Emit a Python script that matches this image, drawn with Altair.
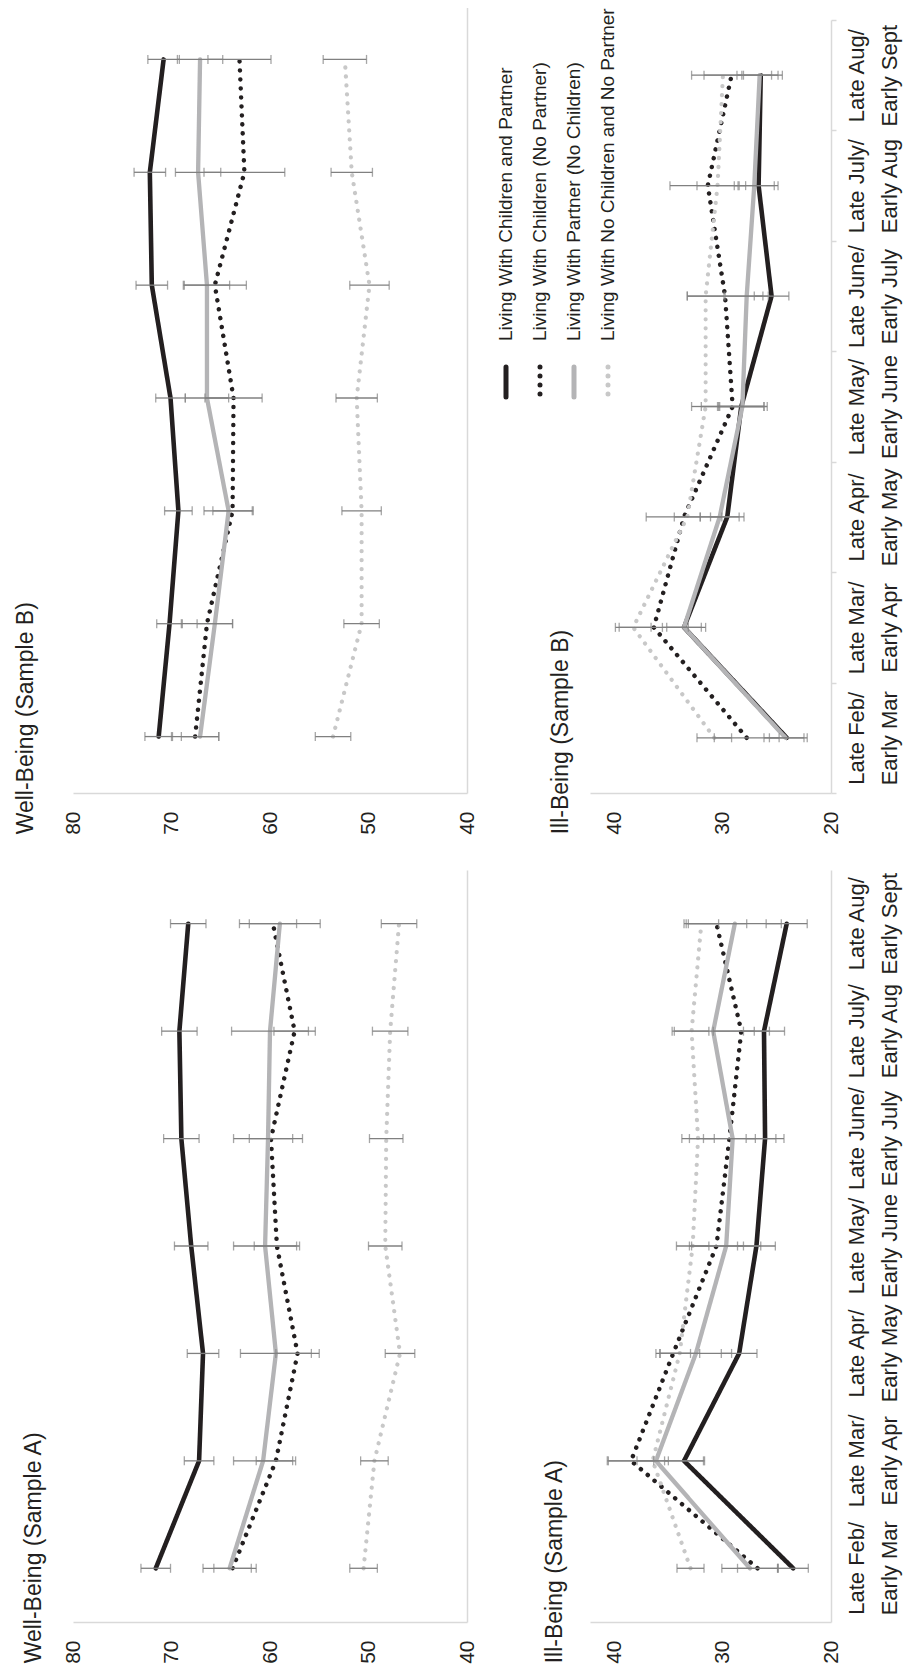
import altair as alt
import pandas as pd

FONT = "Liberation Sans, Arial, sans-serif"
INK = "#231f20"
AXC = "#d9d9d9"

cats = ["Late Feb/ Early Mar", "Late Mar/ Early Apr", "Late Apr/ Early May",
        "Late May/ Early June", "Late June/ Early July", "Late July/ Early Aug",
        "Late Aug/ Early Sept"]
series = ["Living With Children and Partner", "Living With Children (No Partner)",
          "Living With Partner (No Children)", "Living With No Children and No Partner"]
series_colors = [INK, INK, "#b4b4b6", "#c8c8c8"]
series_dash = [[1, 0], [0.1, 8.9], [1, 0], [0.1, 8.9]]
series_width = [4.6, 4.2, 4.6, 4.2]

wb_ticks = [80, 70, 60, 50, 40]
ib_ticks = [40, 30, 20]

# Well-Being, Sample A
wba_cp = [71.6, 67.2, 66.8, 68.0, 69.0, 69.2, 68.3]
wba_cnp = [63.8, 59.4, 57.2, 59.3, 59.9, 57.5, 59.7]
wba_pnc = [64.1, 60.7, 59.4, 60.5, 60.2, 60.0, 59.0]
wba_none = [50.5, 49.4, 46.8, 48.3, 48.2, 47.8, 46.9]
wba_cp_e = [1.5, 1.5, 1.6, 1.7, 1.8, 1.8, 1.8]
wba_cnp_e = [1.9, 2.0, 2.2, 2.3, 2.2, 2.1, 2.4]
wba_pnc_e = [2.7, 3.0, 3.6, 3.2, 3.5, 3.9, 4.1]
wba_none_e = [1.4, 1.4, 1.5, 1.7, 1.7, 1.8, 1.8]

# Well-Being, Sample B
wbb_cp = [71.3, 70.2, 69.3, 70.1, 72.0, 72.2, 70.8]
wbb_cnp = [67.6, 66.4, 63.8, 63.7, 65.6, 62.6, 63.1]
wbb_pnc = [67.1, 65.6, 64.2, 66.4, 66.4, 67.3, 67.1]
wbb_none = [53.6, 50.7, 50.7, 51.2, 49.9, 51.7, 52.4]
wbb_cp_e = [1.4, 1.3, 1.4, 1.5, 1.6, 1.6, 1.6]
wbb_cnp_e = [2.4, 2.6, 2.0, 2.9, 3.2, 4.1, 3.2]
wbb_pnc_e = [1.9, 1.8, 2.5, 2.2, 2.3, 2.3, 2.3]
wbb_none_e = [1.8, 1.8, 2.0, 2.1, 2.0, 2.1, 2.2]

# Ill-Being, Sample A
iba_cp = [23.5, 33.6, 28.5, 26.9, 26.1, 26.2, 24.1]
iba_cnp = [26.8, 38.5, 34.6, 30.6, 29.4, 28.3, 30.6]
iba_pnc = [27.5, 36.2, 32.5, 29.7, 29.1, 30.9, 28.9]
iba_none = [33.0, 36.5, 34.0, 32.8, 32.3, 32.9, 32.0]
iba_cp_e = [1.4, 1.8, 1.65, 1.75, 1.75, 1.9, 1.9]
iba_cnp_e = [1.85, 2.1, 1.6, 2.5, 2.4, 2.6, 2.8]
iba_pnc_e = [2.6, 4.5, 3.3, 3.2, 4.0, 3.8, 4.3]
iba_none_e = [1.25, 1.45, 1.85, 1.5, 1.5, 1.6, 1.6]

# Ill-Being, Sample B
ibb_cp = [24.1, 33.6, 29.6, 28.3, 25.5, 26.7, 26.5]
ibb_cnp = [27.8, 36.4, 33.6, 29.1, 29.8, 31.4, 29.2]
ibb_pnc = [24.2, 33.6, 30.3, 28.2, 27.8, 27.1, 26.6]
ibb_none = [30.8, 38.3, 33.3, 31.6, 31.6, 30.5, 30.0]
ibb_cp_e = [1.6, 1.6, 1.55, 2.1, 1.6, 1.8, 1.6]
ibb_cnp_e = [3.0, 3.2, 3.5, 2.9, 3.5, 3.5, 3.7]
ibb_pnc_e = [2.0, 2.0, 1.8, 2.3, 2.0, 1.85, 2.1]
ibb_none_e = [1.6, 1.65, 1.2, 1.3, 1.7, 1.9, 1.75]


def make_df(means, errs):
    rows = []
    for s, m_list, e_list in zip(series, means, errs):
        for i, (c, m, e) in enumerate(zip(cats, m_list, e_list)):
            rows.append({"series": s, "cat": c, "idx": i, "mean": m,
                         "lo": m - e, "hi": m + e})
    return pd.DataFrame(rows)


color_scale = alt.Scale(domain=series, range=series_colors)
dash_scale = alt.Scale(domain=series, range=series_dash)
width_scale = alt.Scale(domain=series, range=series_width)
y_sort = cats[::-1]

LABEL_EXPR = ("[substring(datum.label, 0, indexof(datum.label, '/') + 1), "
              "substring(datum.label, indexof(datum.label, '/') + 2)]")


def panel(df, domain, ticks, width, height, y_top, title, title_offset,
          show_cat_labels, cat_ticks, legend=False):
    x_scale = alt.Scale(domain=domain, reverse=True, nice=False, zero=False)
    y_scale = alt.Scale(type="band", paddingInner=0, paddingOuter=0,
                        range=[y_top, height])
    x_axis = alt.Axis(orient="bottom", values=ticks, labelAngle=270,
                      labelAlign="right", labelBaseline="middle",
                      labelFontSize=21, labelColor=INK, labelPadding=18,
                      labelFlush=False, labelOverlap=False,
                      ticks=False, tickSize=0, domainColor=AXC, domainWidth=1.5,
                      grid=False, title=None)
    tick_opts = dict(ticks=True, tickBand="extent", tickColor=AXC, tickSize=5,
                     tickWidth=1.5) if cat_ticks else dict(ticks=False)
    if show_cat_labels:
        y_axis = alt.Axis(orient="right", labelExpr=LABEL_EXPR, labelAngle=270,
                          labelAlign="center", labelBaseline="top",
                          labelFontSize=22, labelLineHeight=33,
                          labelPadding=10 if cat_ticks else 15,
                          labelColor=INK, labelOverlap=False, labelBound=False,
                          domainColor=AXC, domainWidth=1.5, grid=False,
                          title=None, **tick_opts)
    else:
        y_axis = alt.Axis(orient="right", labels=False, domainColor=AXC,
                          domainWidth=1.5, grid=False, title=None, **tick_opts)

    base = alt.Chart(df)
    y_enc = alt.Y("cat:N", sort=y_sort, scale=y_scale, axis=y_axis)

    lines = base.mark_line(strokeCap="round", strokeJoin="round").encode(
        x=alt.X("mean:Q", scale=x_scale, axis=x_axis),
        y=y_enc,
        color=alt.Color("series:N", scale=color_scale, legend=None),
        strokeDash=alt.StrokeDash("series:N", scale=dash_scale, legend=None),
        strokeWidth=alt.StrokeWidth("series:N", scale=width_scale, legend=None),
        order=alt.Order("idx:Q"),
    )
    bars = base.mark_rule(color="#808080", strokeWidth=1.3).encode(
        x=alt.X("lo:Q", scale=x_scale, axis=x_axis),
        x2="hi:Q",
        y=y_enc,
    )
    cap_lo = base.mark_tick(color="#808080", thickness=1.3, size=9).encode(
        x=alt.X("lo:Q", scale=x_scale, axis=x_axis), y=y_enc)
    cap_hi = base.mark_tick(color="#808080", thickness=1.3, size=9).encode(
        x=alt.X("hi:Q", scale=x_scale, axis=x_axis), y=y_enc)

    inner = alt.layer(lines, bars, cap_lo, cap_hi)
    title_params = alt.TitleParams(text=title, orient="left", anchor="start",
                                   frame="bounds", offset=title_offset, fontSize=23,
                                   fontWeight="normal", color=INK, font=FONT)
    if legend:
        leg_df = pd.DataFrame({"series": series})
        leg_x = alt.X("series:N", sort=series,
                      scale=alt.Scale(type="point", domain=series,
                                      range=[433, 535], padding=0),
                      axis=None)
        leg_rule = alt.Chart(leg_df).mark_rule(strokeWidth=5, strokeCap="round").encode(
            x=leg_x,
            y=alt.value(364), y2=alt.value(394),
            color=alt.Color("series:N", scale=color_scale, legend=None),
            strokeDash=alt.StrokeDash("series:N", scale=dash_scale, legend=None),
        )
        leg_text = alt.Chart(leg_df).mark_text(angle=270, align="left",
                                               baseline="middle", fontSize=19,
                                               font=FONT, color=INK).encode(
            x=leg_x, y=alt.value(338), text="series:N")
        chart = alt.layer(inner, leg_rule, leg_text).resolve_scale(x="independent")
    else:
        chart = inner
    return chart.properties(width=width, height=height, title=title_params)


wba = make_df([wba_cp, wba_cnp, wba_pnc, wba_none],
              [wba_cp_e, wba_cnp_e, wba_pnc_e, wba_none_e])
wbb = make_df([wbb_cp, wbb_cnp, wbb_pnc, wbb_none],
              [wbb_cp_e, wbb_cnp_e, wbb_pnc_e, wbb_none_e])
iba = make_df([iba_cp, iba_cnp, iba_pnc, iba_none],
              [iba_cp_e, iba_cnp_e, iba_pnc_e, iba_none_e])
ibb = make_df([ibb_cp, ibb_cnp, ibb_pnc, ibb_none],
              [ibb_cp_e, ibb_cnp_e, ibb_pnc_e, ibb_none_e])

WB_W, IB_W = 394, 241
B_H, A_H = 790, 752

p_wbb = panel(wbb, [40, 80], wb_ticks, WB_W, B_H, 0, "Well-Being (Sample B)", 24,
              False, False, legend=True)
p_ibb = panel(ibb, [20, 42.3], ib_ticks, IB_W, B_H, 17, "Ill-Being (Sample B)", 17,
              True, True)
p_wba = panel(wba, [40, 80], wb_ticks, WB_W, A_H, 0, "Well-Being (Sample A)", 16,
              False, False)
p_iba = panel(iba, [20, 42.3], ib_ticks, IB_W, A_H, 0, "Ill-Being (Sample A)", 23,
              True, False)

chart = alt.concat(p_wbb, p_ibb, p_wba, p_iba, columns=2,
                   spacing={"row": 77, "column": 123},
                   bounds="flush", align="each").properties(
    padding={"left": 6, "top": -6, "right": 4, "bottom": 2}
).configure(font=FONT).configure_view(stroke=None).configure_axis(
    labelFont=FONT
)

chart.save("out.html", embed_options={"renderer": "svg", "actions": False})
